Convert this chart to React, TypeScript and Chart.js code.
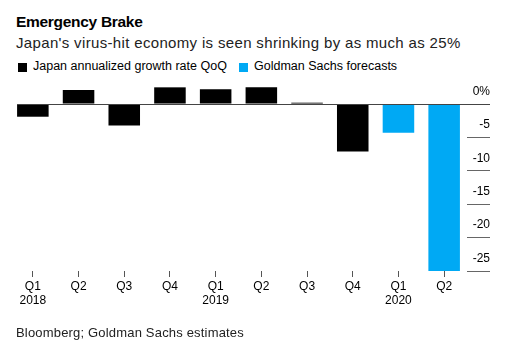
import React, { useEffect, useRef } from "react";
import { Chart, registerables } from "chart.js";

Chart.register(...registerables);

const categories: (string | string[])[] = [
  ["Q1", "2018"], "Q2", "Q3", "Q4",
  ["Q1", "2019"], "Q2", "Q3", "Q4",
  ["Q1", "2020"], "Q2",
];
const japanGrowth: (number | null)[] = [-1.9, 2.1, -3.2, 2.5, 2.2, 2.5, 0.2, -7.1, null, null];
const goldmanForecast: (number | null)[] = [null, null, null, null, null, null, null, null, -4.3, -25];
const yTickValues: number[] = [0, -5, -10, -15, -20, -25];
const yTickLabels: string[] = ["0%", "-5", "-10", "-15", "-20", "-25"];
const seriesNames: string[] = ["Japan annualized growth rate QoQ", "Goldman Sachs forecasts"];

const FONT = '"Liberation Sans", Arial, Helvetica, sans-serif';
const BLACK = "#000000";
const BLUE = "#00A9F4";

const zeroLinePlugin = {
  id: "zeroLine",
  afterDatasetsDraw(chart: any) {
    const y = chart.scales.y;
    const meta = chart.getDatasetMeta(0);
    const first = meta.data[0];
    if (!first) return;
    const py = Math.round(y.getPixelForValue(0)) + 0.5;
    const x0 = first.x - first.width / 2;
    const ctx = chart.ctx;
    ctx.save();
    ctx.strokeStyle = "#444";
    ctx.lineWidth = 1;
    ctx.beginPath();
    ctx.moveTo(x0, py);
    ctx.lineTo(y.right, py);
    ctx.stroke();
    ctx.restore();
  },
};

export default function App() {
  const ref = useRef<HTMLCanvasElement | null>(null);

  useEffect(() => {
    if (!ref.current) return;
    Chart.defaults.font.family = FONT;
    const chart = new Chart(ref.current, {
      type: "bar",
      data: {
        labels: categories,
        datasets: [
          {
            label: seriesNames[0],
            data: japanGrowth,
            backgroundColor: BLACK,
            borderWidth: 0,
            grouped: false,
            categoryPercentage: 1,
            barPercentage: 0.69,
          } as any,
          {
            label: seriesNames[1],
            data: goldmanForecast,
            backgroundColor: BLUE,
            borderWidth: 0,
            grouped: false,
            categoryPercentage: 1,
            barPercentage: 0.69,
          } as any,
        ],
      },
      options: {
        animation: false,
        responsive: true,
        maintainAspectRatio: false,
        layout: { padding: { top: 84, left: 10, right: 34, bottom: 50.2 } },
        plugins: {
          legend: { display: false },
          tooltip: { enabled: false },
          title: { display: false },
        },
        scales: {
          x: {
            grid: {
              drawOnChartArea: false,
              offset: false,
              tickLength: 6,
              tickColor: "#555",
              lineWidth: 1,
            },
            border: { display: false },
            ticks: {
              color: "#000",
              padding: 2,
              maxRotation: 0,
              autoSkip: false,
              font: { size: 12, family: FONT },
            },
          },
          y: {
            position: "right",
            min: -25,
            max: 3,
            afterBuildTicks: (scale: any) => {
              scale.ticks = yTickValues.map((v) => ({ value: v }));
            },
            afterFit: (scale: any) => {
              scale.width = 23;
            },
            grid: {
              drawOnChartArea: false,
              tickLength: 23,
              tickColor: "#666",
              lineWidth: 1,
            },
            border: { display: false },
            ticks: {
              crossAlign: "far",
              padding: 0,
              labelOffset: -12.5,
              color: "#000",
              font: { size: 12, family: FONT },
              callback: (v: any) => {
                const i = yTickValues.indexOf(Number(v));
                return i >= 0 ? yTickLabels[i] : "";
              },
            },
          },
        },
      },
      plugins: [zeroLinePlugin],
    });
    return () => chart.destroy();
  }, []);

  const legendItems = [
    { name: seriesNames[0], color: BLACK, box: 18, text: 33 },
    { name: seriesNames[1], color: BLUE, box: 239, text: 254 },
  ];

  return (
    <div
      style={{
        position: "fixed",
        left: 0,
        top: 0,
        width: 524,
        height: 360,
        background: "#fff",
        fontFamily: FONT,
        color: "#000",
      }}
    >
      <div
        style={{
          position: "absolute",
          left: 16,
          top: 14,
          fontSize: 15.5,
          lineHeight: "16px",
          fontWeight: "bold",
          letterSpacing: -0.3,
          whiteSpace: "nowrap",
        }}
      >
        Emergency Brake
      </div>
      <div
        style={{
          position: "absolute",
          left: 16,
          top: 34.6,
          fontSize: 15,
          lineHeight: "15px",
          letterSpacing: 0.34,
          color: "#222",
          whiteSpace: "nowrap",
        }}
      >
        Japan's virus-hit economy is seen shrinking by as much as 25%
      </div>
      {legendItems.map((it) => (
        <React.Fragment key={it.name}>
          <div
            style={{
              position: "absolute",
              left: it.box,
              top: 63,
              width: 9,
              height: 9,
              background: it.color,
            }}
          />
          <div
            style={{
              position: "absolute",
              left: it.text,
              top: 60.2,
              fontSize: 12.5,
              lineHeight: "13px",
              color: "#000",
              whiteSpace: "nowrap",
            }}
          >
            {it.name}
          </div>
        </React.Fragment>
      ))}
      <div style={{ position: "absolute", left: 0, top: 0, width: 524, height: 360 }}>
        <canvas ref={ref} />
      </div>
      <div
        style={{
          position: "absolute",
          left: 16,
          top: 325.7,
          fontSize: 13,
          lineHeight: "13px",
          letterSpacing: 0.18,
          color: "#222",
          whiteSpace: "nowrap",
        }}
      >
        Bloomberg; Goldman Sachs estimates
      </div>
    </div>
  );
}
